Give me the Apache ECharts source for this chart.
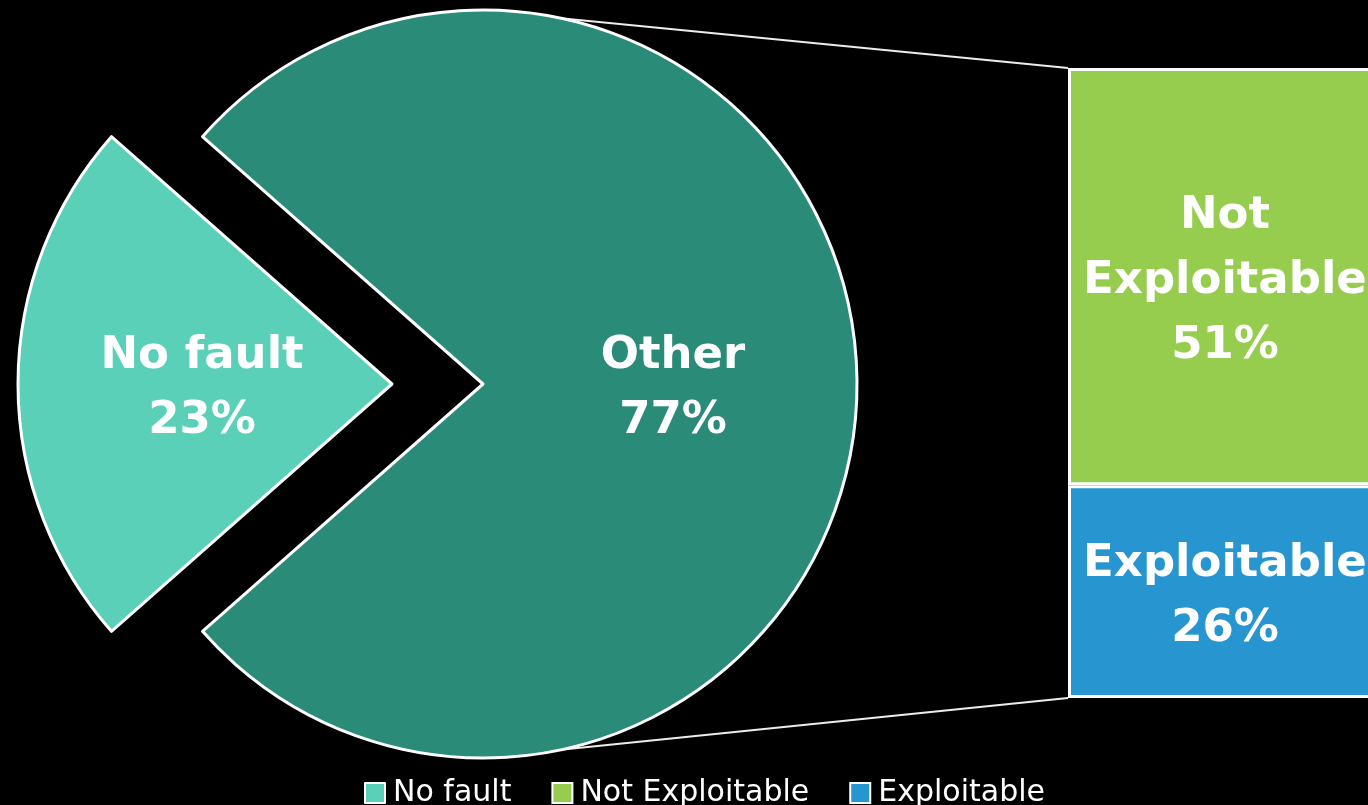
<!DOCTYPE html>
<html>
<head>
<meta charset="utf-8">
<style>
  html, body { margin: 0; padding: 0; background: #000; overflow: hidden; }
  #chart { width: 1384px; height: 805px; }
</style>
<script src="https://cdn.jsdelivr.net/npm/echarts@6/dist/echarts.min.js"></script>
</head>
<body>
<div id="chart"></div>
<script>
// ---- data ----
const pieNames = ['No fault', 'Other'];
const pieValues = [23, 77];
const barNames = ['Not Exploitable', 'Exploitable'];
const barValues = [51, 26];
const legendNames = ['No fault', 'Not Exploitable', 'Exploitable'];

// ---- styles ----
const colors = {
  'No fault': '#5BD0B8',
  'Other': '#298B78',
  'Not Exploitable': '#97CD4E',
  'Exploitable': '#2695D0'
};
const FONT = 'DejaVu Sans';
const PIE_CX = 483, PIE_CY = 384, PIE_R = 374;

const chart = echarts.init(document.getElementById('chart'), null, { renderer: 'canvas' });

const total = pieValues.reduce((a, b) => a + b, 0);
const startAngle = 180 + (pieValues[0] / total) * 360 / 2;

const labelStyle = {
  color: '#ffffff',
  fontFamily: FONT,
  fontWeight: 'bold',
  fontSize: 45,
  lineHeight: 65,
  offset: [0, 5]
};

const option = {
  backgroundColor: '#000000',
  animation: false,
  legend: {
    data: legendNames,
    left: 364,
    top: 778,
    padding: 0,
    itemWidth: 20,
    itemHeight: 20,
    itemGap: 40,
    icon: 'rect',
    textStyle: { color: '#ffffff', fontFamily: FONT, fontSize: 30, padding: [0, 0, 0, 3] },
    selectedMode: false
  },
  grid: { left: 1068, top: 68, width: 314, height: 630 },
  xAxis: { type: 'category', data: ['Other'], show: false },
  yAxis: { type: 'value', min: 0, max: pieValues[1], show: false },
  series: [
    {
      type: 'pie',
      center: [PIE_CX, PIE_CY],
      radius: PIE_R,
      startAngle: startAngle,
      clockwise: true,
      selectedMode: 'single',
      selectedOffset: 91,
      avoidLabelOverlap: false,
      label: Object.assign({
        show: true,
        position: 'inside',
        formatter: p => p.name + '\n' + p.value + '%'
      }, labelStyle),
      select: { label: { offset: [0, 5] } },
      labelLine: { show: false },
      emphasis: { disabled: true },
      itemStyle: { borderColor: '#ffffff', borderWidth: 3 },
      data: pieNames.map((n, i) => ({
        name: n,
        value: pieValues[i],
        selected: i === 0,
        itemStyle: { color: colors[n] }
      }))
    },
    // stacked bar (bottom first)
    {
      type: 'bar',
      name: barNames[1],
      stack: 'other',
      barWidth: '100%',
      data: [barValues[1]],
      itemStyle: { color: colors[barNames[1]], borderColor: '#ffffff', borderWidth: 3 },
      emphasis: { disabled: true },
      label: Object.assign({
        show: true,
        position: 'inside',
        formatter: p => p.seriesName.replace(' ', '\n') + '\n' + p.value + '%'
      }, labelStyle)
    },
    {
      type: 'bar',
      name: barNames[0],
      stack: 'other',
      barWidth: '100%',
      data: [barValues[0]],
      itemStyle: { color: colors[barNames[0]], borderColor: '#ffffff', borderWidth: 3 },
      emphasis: { disabled: true },
      label: Object.assign({
        show: true,
        position: 'inside',
        formatter: p => p.seriesName.replace(' ', '\n') + '\n' + p.value + '%'
      }, labelStyle)
    }
  ]
};

chart.setOption(option);

// connector lines from the pie "Other" arc to the bar corners
const gridRect = chart.getModel().getComponent('grid').coordinateSystem.getRect();
const ang = 78 * Math.PI / 180;
const topStart = [PIE_CX + PIE_R * Math.cos(ang), PIE_CY - PIE_R * Math.sin(ang)];
const botStart = [PIE_CX + PIE_R * Math.cos(ang), PIE_CY + PIE_R * Math.sin(ang)];
chart.setOption({
  graphic: [
    { type: 'line', z: 1, shape: { x1: topStart[0], y1: topStart[1], x2: gridRect.x, y2: gridRect.y },
      style: { stroke: '#ececec', lineWidth: 2 } },
    { type: 'line', z: 1, shape: { x1: botStart[0], y1: botStart[1], x2: gridRect.x, y2: gridRect.y + gridRect.height },
      style: { stroke: '#ececec', lineWidth: 2 } }
  ]
});
</script>
</body>
</html>
